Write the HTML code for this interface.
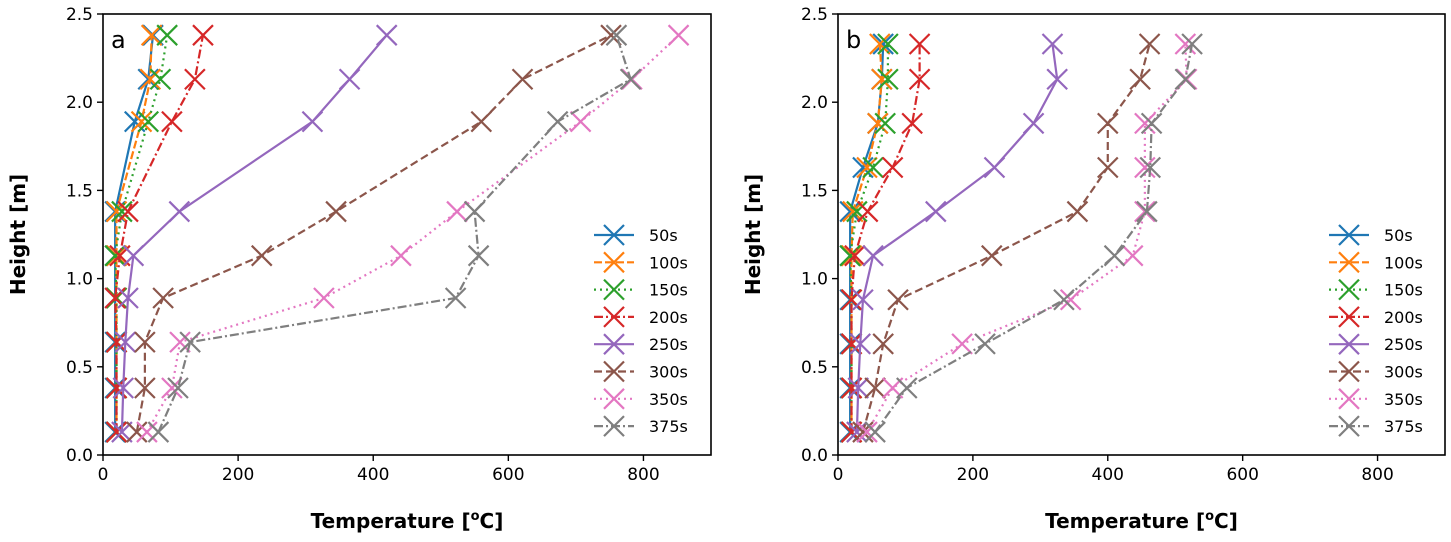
<!DOCTYPE html>
<html><head><meta charset="utf-8"><style>
body{margin:0;background:#fff;}
svg{display:block;font-family:"DejaVu Sans","Liberation Sans",sans-serif;}
</style></head><body>
<svg id="fig" width="1451" height="542" viewBox="0 0 1451 542"></svg>
<script>
const seriesNames = ["50s","100s","150s","200s","250s","300s","350s","375s"];
const colors = ["#1f77b4","#ff7f0e","#2ca02c","#d62728","#9467bd","#8c564b","#e377c2","#7f7f7f"];
const dashes = ["","8,3","2,4","9,3,2,3","","8,4","2,4","9,3,2,3"];
const xTicks = [0,200,400,600,800];
const yTicks = [0.0,0.5,1.0,1.5,2.0,2.5];
const heightsA = [0.13,0.38,0.64,0.89,1.13,1.38,1.89,2.13,2.38];
const tempsA = [
 [18,18,18,18,18,18,47,67,74],
 [20,20,20,20,20,20,57,70,72],
 [20,20,20,20,18,28,67,85,95],
 [20,20,20,18,25,37,102,136,148],
 [28,30,33,37,45,113,310,365,420],
 [50,62,62,89,235,345,560,621,752],
 [65,102,114,327,441,524,707,783,852],
 [82,111,129,522,556,550,673,781,760]
];
const heightsB = [0.13,0.38,0.63,0.88,1.13,1.38,1.63,1.88,2.13,2.33];
const tempsB = [
 [18,18,18,18,18,18,37,59,65,67],
 [20,20,20,20,20,22,43,59,65,62],
 [20,20,20,20,18,28,52,70,74,74],
 [20,20,20,20,25,44,81,110,121,121],
 [28,30,33,37,52,145,232,290,325,318],
 [37,55,67,89,228,355,400,400,448,462],
 [43,81,184,345,437,455,455,455,517,515],
 [55,102,218,335,410,458,463,465,515,525]
];
const NS="http://www.w3.org/2000/svg";
const svg=document.getElementById('fig');
function mk(tag,attrs,parent){const e=document.createElementNS(NS,tag);for(const k in attrs)e.setAttribute(k,attrs[k]);(parent||svg).appendChild(e);return e;}
function panel(id,left,right,heights,temps,letter,legX){
 const top=14,bottom=455;
 const g=mk('g',{});
 
 
 const xs=v=>left+v/900*(right-left);
 const ys=v=>bottom-v/2.5*(bottom-top);
 temps.forEach((ser,i)=>{
  const pts=ser.map((t,j)=>xs(t)+','+ys(heights[j])).join(' ');
  const pl=mk('polyline',{points:pts,fill:'none',stroke:colors[i],'stroke-width':2.2,'stroke-dasharray':dashes[i]},g);
  
  
  ser.forEach((t,j)=>{
   const x=xs(t),y=ys(heights[j]),s=10;
   const m=mk('path',{d:`M${x-s},${y-s}L${x+s},${y+s}M${x-s},${y+s}L${x+s},${y-s}`,stroke:colors[i],'stroke-width':2.2,fill:'none'},g);
   
   
  });
 });
 const fr=mk('rect',{x:left,y:top,width:right-left,height:bottom-top,fill:'none',stroke:'#000','stroke-width':1.6},g);
 
 
 xTicks.forEach(v=>{
  mk('line',{x1:xs(v),x2:xs(v),y1:bottom,y2:bottom+6,stroke:'#000','stroke-width':1.4},g);
  const t=mk('text',{x:xs(v),y:bottom+25,'text-anchor':'middle','font-size':17},g);t.textContent=v;
  
  
 });
 yTicks.forEach(v=>{
  mk('line',{x1:left-6,x2:left,y1:ys(v),y2:ys(v),stroke:'#000','stroke-width':1.4},g);
  const t=mk('text',{x:left-10,y:ys(v)+6,'text-anchor':'end','font-size':17},g);t.textContent=v.toFixed(1);
  
  
 });
 const pl=mk('text',{x:left+8,y:48,'font-size':24},g);pl.textContent=letter;
 
 
 const xl=mk('text',{x:(left+right)/2,y:528,'text-anchor':'middle','font-size':20,'font-weight':'bold'},g);
 xl.innerHTML='Temperature [<tspan font-size="13" dy="-8">o</tspan><tspan dy="8">C]</tspan>';
 
 
 const yl=mk('text',{x:0,y:0,'text-anchor':'middle','font-size':20,'font-weight':'bold',transform:`translate(${left-78},${(top+bottom)/2}) rotate(-90)`},g);
 yl.textContent='Height [m]';
 
 
 seriesNames.forEach((n,i)=>{
  const y=235+i*27.3;
  const lg=mk('g',{},g);
  
  
  mk('line',{x1:legX,x2:legX+40,y1:y,y2:y,stroke:colors[i],'stroke-width':2.2,'stroke-dasharray':dashes[i]},lg);
  const c=legX+20,s=10;
  mk('path',{d:`M${c-s},${y-s}L${c+s},${y+s}M${c-s},${y+s}L${c+s},${y-s}`,stroke:colors[i],'stroke-width':2.2},lg);
  const t=mk('text',{x:legX+55,y:y+6,'font-size':16},lg);t.textContent=n;
 });
}
panel('a',103,711,heightsA,tempsA,'a',594);
panel('b',838,1445,heightsB,tempsB,'b',1329);
</script>
</body></html>
